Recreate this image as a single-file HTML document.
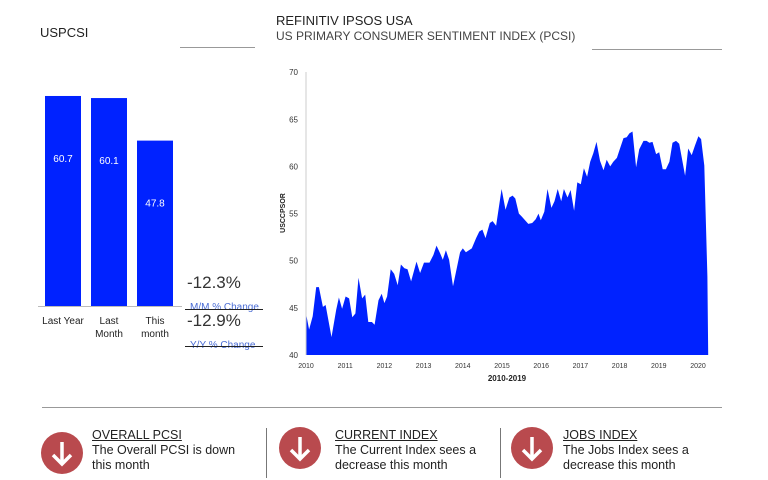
<!DOCTYPE html>
<html><head><meta charset="utf-8"><style>
body{margin:0;background:#fff;font-family:"Liberation Sans",sans-serif;}
#root{position:relative;width:768px;height:480px;overflow:hidden;}
.abs{position:absolute;white-space:nowrap;}
.hd{font-size:12.5px;color:#222;text-decoration:underline;line-height:15px;}
.bd{font-size:12.5px;color:#222;line-height:15px;}
</style></head><body>
<div id="root">
<div class="abs" style="left:40px;top:25px;font-size:13px;color:#222">USPCSI</div>
<div class="abs" style="left:180px;top:47px;width:75px;height:1px;background:#999"></div>
<div class="abs" style="left:276px;top:13px;font-size:13px;color:#222">REFINITIV IPSOS USA</div>
<div class="abs" style="left:276px;top:29px;font-size:12px;color:#444">US PRIMARY CONSUMER SENTIMENT INDEX (PCSI)</div>
<div class="abs" style="left:592px;top:49px;width:130px;height:1px;background:#999"></div>

<svg class="abs" style="left:0;top:0" width="768" height="400" id="svg"></svg>

<div class="abs" style="left:187px;top:273px;font-size:17px;color:#333">-12.3%</div>
<div class="abs" style="left:190px;top:302px;font-size:10px;color:#4a6cd4">M/M % Change</div>
<div class="abs" style="left:185px;top:309px;width:78px;height:1px;background:#222"></div>
<div class="abs" style="left:187px;top:311px;font-size:17px;color:#333">-12.9%</div>
<div class="abs" style="left:190px;top:340px;font-size:10px;color:#4a6cd4">Y/Y % Change</div>
<div class="abs" style="left:185px;top:346px;width:78px;height:1px;background:#222"></div>

<div class="abs" style="left:42px;top:407px;width:680px;height:1px;background:#999"></div>
<div class="abs" style="left:266px;top:428px;width:1px;height:50px;background:#777"></div>
<div class="abs" style="left:500px;top:428px;width:1px;height:50px;background:#777"></div>

<svg class="abs" style="left:41px;top:432px" width="42" height="42"><circle cx="21" cy="21" r="21" fill="#b94a4e"/><path d="M21 10V31M12 23L21 32L30 23" stroke="#fff" stroke-width="3.5" fill="none"/></svg>
<div class="abs hd" style="left:92px;top:428px">OVERALL PCSI</div>
<div class="abs bd" style="left:92px;top:443px">The Overall PCSI is down<br>this month</div>

<svg class="abs" style="left:279px;top:427px" width="42" height="42"><circle cx="21" cy="21" r="21" fill="#b94a4e"/><path d="M21 10V31M12 23L21 32L30 23" stroke="#fff" stroke-width="3.5" fill="none"/></svg>
<div class="abs hd" style="left:335px;top:428px">CURRENT INDEX</div>
<div class="abs bd" style="left:335px;top:443px">The Current Index sees a<br>decrease this month</div>

<svg class="abs" style="left:511px;top:427px" width="42" height="42"><circle cx="21" cy="21" r="21" fill="#b94a4e"/><path d="M21 10V31M12 23L21 32L30 23" stroke="#fff" stroke-width="3.5" fill="none"/></svg>
<div class="abs hd" style="left:563px;top:428px">JOBS INDEX</div>
<div class="abs bd" style="left:563px;top:443px">The Jobs Index sees a<br>decrease this month</div>
</div>
<script>
const barCategories=["Last Year","Last Month","This month"];
const barCatLines=[["Last Year"],["Last","Month"],["This","month"]];
const barValues=[60.7,60.1,47.8];
const yearTicks=[2010,2011,2012,2013,2014,2015,2016,2017,2018,2019,2020];
const valueTicks=[40,45,50,55,60,65,70];
const seriesT=[0,.08,.17,.26,.33,.43,.50,.65,.77,.84,.92,1.01,1.10,1.18,1.26,1.34,1.43,1.51,1.59,1.68,1.75,1.85,1.93,2.00,2.07,2.16,2.25,2.34,2.42,2.51,2.59,2.68,2.82,2.91,3.01,3.15,3.25,3.33,3.42,3.49,3.57,3.65,3.75,3.93,4.00,4.08,4.23,4.34,4.42,4.50,4.58,4.69,4.76,4.85,4.99,5.09,5.19,5.27,5.34,5.43,5.50,5.67,5.77,5.86,5.93,5.99,6.08,6.16,6.26,6.34,6.42,6.51,6.58,6.67,6.75,6.84,6.92,7.01,7.09,7.17,7.25,7.33,7.41,7.50,7.59,7.67,7.76,7.84,7.93,8.01,8.10,8.18,8.25,8.33,8.42,8.50,8.61,8.69,8.76,8.84,8.93,9.01,9.10,9.18,9.27,9.35,9.44,9.52,9.67,9.75,9.84,9.92,10.01,10.08,10.16,10.24,10.26];
const seriesV=[44.4,42.7,44.1,47.2,47.2,45.1,45.3,41.9,44.8,46.1,44.9,46.2,46.0,44.0,44.4,48.2,46.0,46.4,43.5,43.5,43.2,45.8,46.5,45.5,46.2,49.1,48.6,47.4,49.6,49.2,49.1,47.8,49.9,48.7,49.8,49.8,50.6,51.6,50.8,50.1,51.1,50.1,47.3,50.9,51.3,50.9,51.3,52.4,53.1,53.3,52.4,54.0,54.2,53.7,57.6,55.4,56.7,56.9,56.6,55.0,54.7,53.9,54.0,54.4,55.0,54.3,55.2,57.6,55.6,56.3,57.6,56.3,57.6,56.7,57.5,55.3,58.3,58.1,59.8,58.9,60.5,61.4,62.6,60.6,59.6,60.7,60.0,60.5,60.9,61.9,63.0,63.1,63.5,63.7,59.9,61.8,62.7,62.7,62.5,62.6,61.3,61.5,59.7,59.7,60.5,62.5,62.7,62.4,59.0,61.9,61.2,62.2,63.2,62.9,60.1,48.3,40];
const NS="http://www.w3.org/2000/svg";
const svg=document.getElementById('svg');
function mk(tag,attrs,parent){const e=document.createElementNS(NS,tag);for(const k in attrs)e.setAttribute(k,attrs[k]);(parent||svg).appendChild(e);return e;}
// bar chart
const barBase=306,barScale=3.46,barX0=45,barStep=46,barW=36;
const by=v=>barBase-v*barScale;
barValues.forEach((v,i)=>{
 const r=mk('rect',{x:barX0+i*barStep,y:by(v),width:barW,height:barBase-by(v),fill:'#0022ff'});
 
 
 const t=mk('text',{x:barX0+i*barStep+barW/2,y:by(v)+66,'text-anchor':'middle','font-size':10,fill:'#fff','font-family':'Liberation Sans'});
 t.textContent=v.toFixed(1);
 
 
 barCatLines[i].forEach((ln,j)=>{
  const c=mk('text',{x:barX0+i*barStep+barW/2,y:324+j*13,'text-anchor':'middle','font-size':10,fill:'#222','font-family':'Liberation Sans'});
  c.textContent=ln;
  
  
 });
});
const ba=mk('line',{x1:38,x2:182,y1:306.5,y2:306.5,stroke:'#bbb'});


// area chart
const X0=306,PX=39.2,Y0=355,PY=9.43;
const xs=t=>X0+t*PX, ys=v=>Y0-(v-40)*PY;
let d='M'+xs(seriesT[0])+' '+Y0;
seriesT.forEach((t,i)=>{d+=' L'+xs(t).toFixed(1)+' '+ys(seriesV[i]).toFixed(1);});
d+=' L'+xs(seriesT[seriesT.length-1])+' '+Y0+' Z';
const area=mk('path',{d:d,fill:'#0022ff'});


const ax=mk('line',{x1:306,x2:306,y1:72,y2:355,stroke:'#ccc'});


valueTicks.forEach(v=>{
 const t=mk('text',{x:298,y:ys(v)+3,'text-anchor':'end','font-size':8,fill:'#333','font-family':'Liberation Sans'});
 t.textContent=v;
 
 
});
yearTicks.forEach(y=>{
 const t=mk('text',{x:xs(y-2010),y:368,'text-anchor':'middle','font-size':7,fill:'#333','font-family':'Liberation Sans'});
 t.textContent=y;
 
 
});
const xt=mk('text',{x:507,y:381,'text-anchor':'middle','font-size':8,'font-weight':'bold',fill:'#222','font-family':'Liberation Sans'});
xt.textContent='2010-2019';


const yt=mk('text',{x:0,y:0,'text-anchor':'middle','font-size':7,'font-weight':'bold',fill:'#222','font-family':'Liberation Sans',transform:'translate(285,213) rotate(-90)'});
yt.textContent='USCCPSOR';


</script>
</body></html>
